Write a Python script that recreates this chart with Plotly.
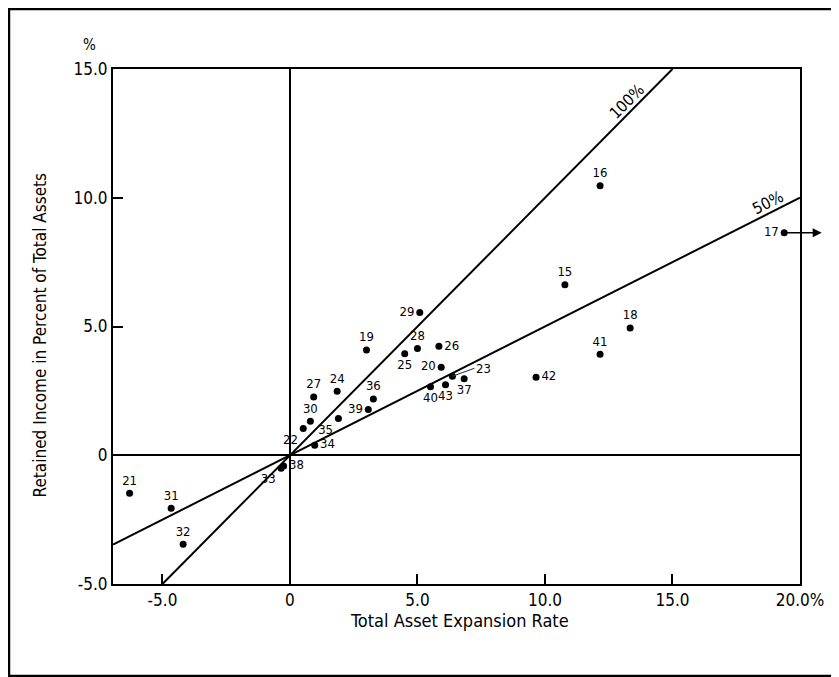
import plotly.graph_objects as go

# ---- data ----
labels = ["15", "16", "17", "18", "19", "20", "21", "22", "23", "24", "25", "26", "27", "28", "29",
          "30", "31", "32", "33", "34", "35", "36", "37", "38", "39", "40", "41", "42", "43"]
expansion = [10.78, 12.16, 19.38, 13.34, 3.00, 5.93, -6.29, 0.52, 6.37, 1.85, 4.50, 5.84, 0.93, 5.00, 5.09,
             0.80, -4.66, -4.19, -0.35, 0.97, 1.90, 3.27, 6.83, -0.25, 3.07, 5.51, 12.16, 9.65, 6.10]
retained = [6.62, 10.47, 8.64, 4.94, 4.09, 3.42, -1.48, 1.04, 3.07, 2.49, 3.94, 4.23, 2.26, 4.15, 5.54,
            1.32, -2.06, -3.46, -0.50, 0.39, 1.43, 2.18, 2.97, -0.42, 1.78, 2.66, 3.92, 3.03, 2.74]
label_pos = ["top center", "top center", "middle left", "top center", "top center", "middle left",
             "top center", "bottom left", "middle right", "top center", "bottom center", "middle right",
             "top center", "top center", "middle left", "top center", "top center", "top center",
             "bottom left", "middle right", "bottom left", "top center", "bottom center", "middle right",
             "middle left", "bottom center", "top center", "middle right", "bottom center"]

ratio_values = [1.0, 0.5]
ratio_labels = ["100%", "50%"]

x_ticks = [-5, 0, 5, 10, 15, 20]
x_ticktext = ["-5.0", "0", "5.0", "10.0", "15.0", "20.0%"]
y_ticks = [-5, 0, 5, 10, 15]
y_ticktext = ["-5.0", "0", "5.0", "10.0", "15.0"]

x_range = [-6.94, 20]
y_range = [-5, 15]

FONT = "DejaVu Sans Condensed, Liberation Sans Narrow, DejaVu Sans, sans-serif"

fig = go.Figure()

# ratio reference lines (y = r * x), clipped to the axis box
for r in ratio_values:
    x_lo = max(x_range[0], y_range[0] / r)
    x_hi = min(x_range[1], y_range[1] / r)
    fig.add_trace(go.Scatter(x=[x_lo, x_hi], y=[r * x_lo, r * x_hi], mode="lines",
                             line=dict(color="black", width=2), hoverinfo="skip",
                             showlegend=False, cliponaxis=False))

# companies ("23" gets a leader line via annotation)
txt = [("" if l == "23" else l) for l in labels]
fig.add_trace(go.Scatter(x=expansion, y=retained, mode="markers+text", text=txt,
                         textposition=label_pos,
                         textfont=dict(family=FONT, size=13, color="black"),
                         marker=dict(color="black", size=7), showlegend=False, cliponaxis=False))

annotations = []
i23 = labels.index("23")
annotations.append(dict(x=expansion[i23], y=retained[i23], xref="x", yref="y", text="23",
                        showarrow=True, arrowhead=0, arrowwidth=1.2, ax=22, ay=-8,
                        xanchor="left", font=dict(family=FONT, size=13, color="black")))
# arrow for 17 (off-scale)
i17 = labels.index("17")
annotations.append(dict(x=20.85, y=retained[i17], xref="x", yref="y",
                        ax=expansion[i17], ay=retained[i17], axref="x", ayref="y",
                        text="", showarrow=True, arrowhead=2, arrowsize=1.2, arrowwidth=1.5,
                        arrowcolor="black"))
# ratio line labels
annotations.append(dict(x=13.2, y=13.75, xref="x", yref="y", text=ratio_labels[0], showarrow=False,
                        textangle=-45, font=dict(family=FONT, size=16, color="black")))
annotations.append(dict(x=18.75, y=9.8, xref="x", yref="y", text=ratio_labels[1], showarrow=False,
                        textangle=-27, font=dict(family=FONT, size=16, color="black")))
# "%" above y axis
annotations.append(dict(x=-0.034, y=1.046, xref="paper", yref="paper", text="%", showarrow=False,
                        xanchor="center", yanchor="middle",
                        font=dict(family=FONT, size=15, color="black")))
# axis titles
annotations.append(dict(x=0.505, y=-0.07, xref="paper", yref="paper", text="Total Asset Expansion Rate",
                        showarrow=False, xanchor="center", yanchor="middle",
                        font=dict(family=FONT, size=18, color="black")))
annotations.append(dict(x=-0.106, y=0.483, xref="paper", yref="paper",
                        text="Retained Income in Percent of Total Assets", textangle=-90,
                        showarrow=False, xanchor="center", yanchor="middle",
                        font=dict(family=FONT, size=17, color="black")))

fig.update_layout(
    width=831, height=669,
    margin=dict(l=105, r=39, t=61, b=93),
    paper_bgcolor="white", plot_bgcolor="white",
    font=dict(family=FONT, color="black"),
    annotations=annotations,
    shapes=[dict(type="rect", xref="paper", yref="paper", x0=-0.1514, x1=1.048, y0=-0.1786, y1=1.1165,
                 line=dict(color="black", width=2.5))],
)
fig.update_xaxes(range=x_range, tickvals=x_ticks, ticktext=x_ticktext, ticks="inside", ticklen=10,
                 tickwidth=2, tickcolor="black", showgrid=False, zeroline=True, zerolinecolor="black",
                 zerolinewidth=2, showline=True, linecolor="black", linewidth=2, mirror=True,
                 tickfont=dict(family=FONT, size=17, color="black"))
fig.update_yaxes(range=y_range, tickvals=y_ticks, ticktext=y_ticktext, ticks="inside", ticklen=10,
                 tickwidth=2, tickcolor="black", showgrid=False, zeroline=True, zerolinecolor="black",
                 zerolinewidth=2, showline=True, linecolor="black", linewidth=2, mirror=True,
                 tickfont=dict(family=FONT, size=17, color="black"))

fig.write_html("out.html")
